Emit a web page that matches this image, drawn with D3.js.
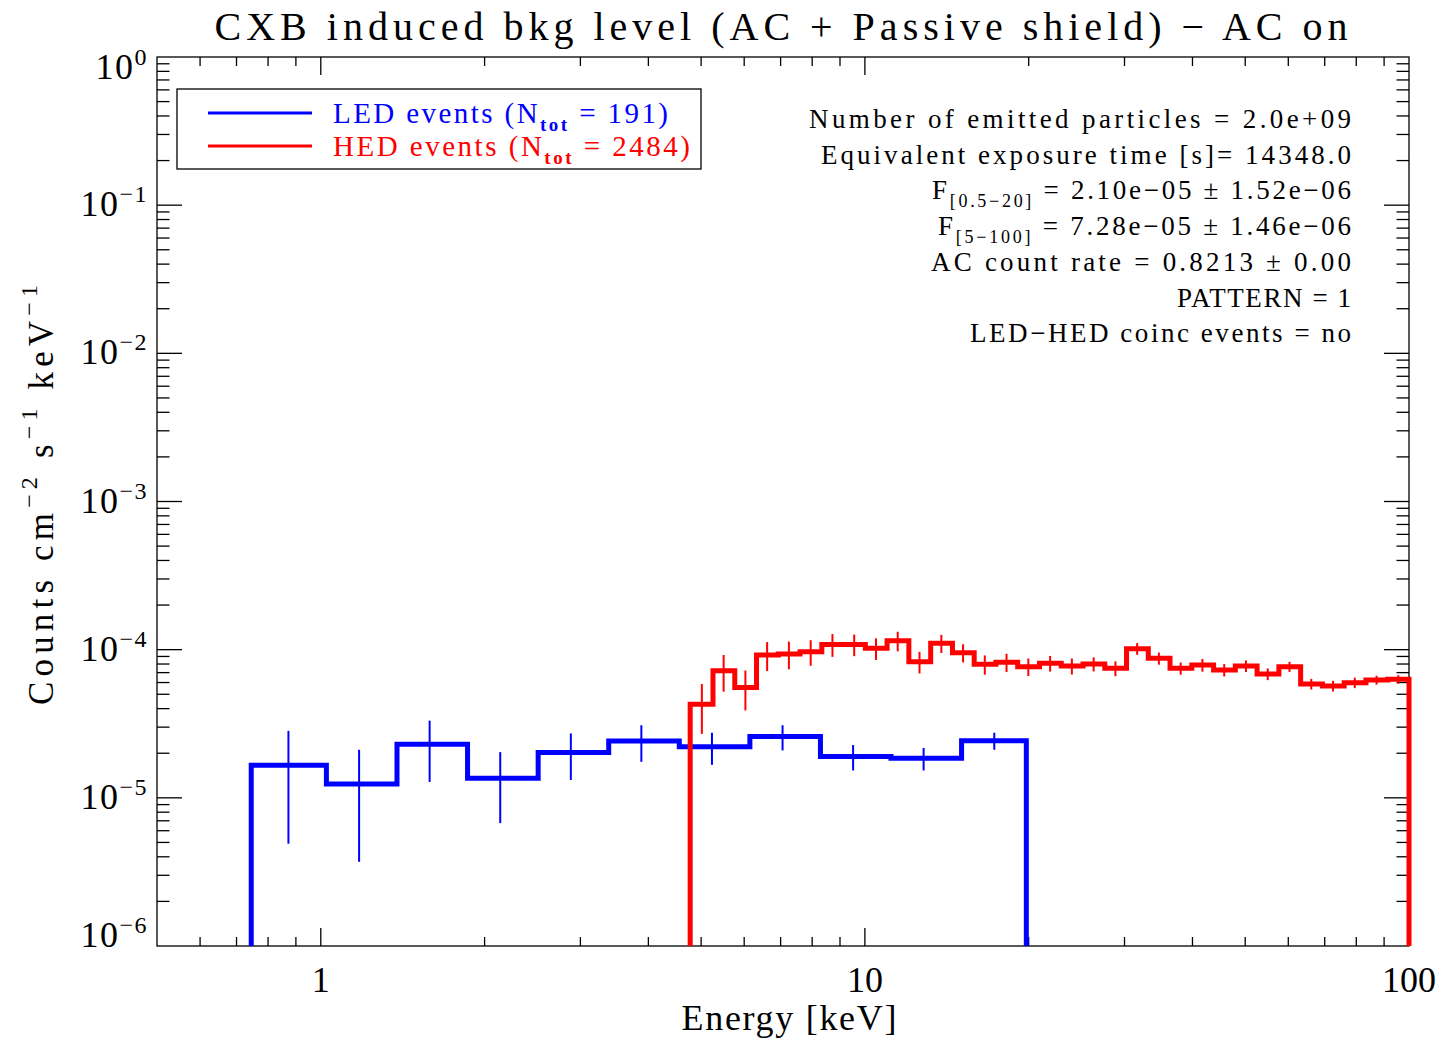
<!DOCTYPE html>
<html>
<head>
<meta charset="utf-8">
<script src="https://cdn.jsdelivr.net/npm/d3@7"></script>
<style>
  html, body { margin: 0; padding: 0; background: #fff; }
  svg { display: block; }
  text { font-family: "Liberation Serif", "DejaVu Serif", serif; fill: #000; }
</style>
</head>
<body>
<svg id="chart" width="1442" height="1040"></svg>
<script>
// ---- data ----------------------------------------------------------------
// LED spectrum: bin centres [keV], count rate, 1-sigma error
const ledEnergy = [0.872, 1.176, 1.585, 2.137, 2.881, 3.883, 5.235, 7.058, 9.513, 12.82, 17.29];
const ledRate   = [1.66e-5, 1.24e-5, 2.30e-5, 1.355e-5, 2.02e-5, 2.42e-5, 2.21e-5, 2.59e-5, 1.90e-5, 1.85e-5, 2.43e-5];
const ledErr    = [1.17e-5, 0.87e-5, 1.02e-5, 0.68e-5, 0.70e-5, 0.67e-5, 0.54e-5, 0.50e-5, 0.37e-5, 0.32e-5, 0.32e-5];
const ledBounds = [0.745, 19.8];

// HED spectrum
const hedEnergy = [5.016, 5.500, 6.031, 6.612, 7.250, 7.950, 8.717, 9.558, 10.48, 11.49, 12.60,
                   13.82, 15.15, 16.61, 18.21, 19.97, 21.90, 24.01, 26.33, 28.87, 31.65, 34.70,
                   38.05, 41.72, 45.75, 50.16, 55.00, 60.31, 66.13, 72.51, 79.50, 87.17, 95.58];
const hedRate   = [4.28e-5, 7.21e-5, 5.56e-5, 9.21e-5, 9.35e-5, 9.69e-5, 1.084e-4, 1.084e-4, 1.022e-4, 1.148e-4, 8.29e-5,
                   1.104e-4, 9.54e-5, 7.96e-5, 8.22e-5, 7.68e-5, 8.09e-5, 7.76e-5, 8.00e-5, 7.48e-5, 1.015e-4, 8.74e-5,
                   7.48e-5, 7.88e-5, 7.29e-5, 7.76e-5, 6.85e-5, 7.68e-5, 5.87e-5, 5.69e-5, 5.99e-5, 6.24e-5, 6.31e-5];
const hedErr    = [1.58e-5, 2.00e-5, 1.67e-5, 2.04e-5, 1.98e-5, 1.90e-5, 1.90e-5, 1.80e-5, 1.70e-5, 1.73e-5, 1.38e-5,
                   1.55e-5, 1.33e-5, 1.18e-5, 1.16e-5, 1.04e-5, 0.98e-5, 0.96e-5, 0.87e-5, 0.86e-5, 0.92e-5, 0.82e-5,
                   0.71e-5, 0.78e-5, 0.70e-5, 0.70e-5, 0.62e-5, 0.60e-5, 0.48e-5, 0.47e-5, 0.49e-5, 0.43e-5, 0.42e-5];
const hedBounds = [4.774, 100];

// axis ranges and tick labels
const xDomain = [0.5, 100];
const yDomain = [1e-6, 1];
const xTickLabels = [[1, "1"], [10, "10"], [100, "100"]];
const yTickExponents = ["0", "−1", "−2", "−3", "−4", "−5", "−6"];

// texts
const titleText = "CXB induced bkg level (AC + Passive shield) − AC on";
const xTitle = "Energy [keV]";
const yTitleSegs = [["Counts cm"], ["−2", "sup"], [" s"], ["−1", "sup"], [" keV"], ["−1", "sup"]];
const legendEntries = [
  { color: "#0000ff", segs: [["LED events (N"], ["tot", "sub"], [" = 191)"]], len: 335 },
  { color: "#ff0000", segs: [["HED events (N"], ["tot", "sub"], [" = 2484)"]], len: 357 }
];
const infoLines = [
  { segs: [["Number of emitted particles = 2.0e+09"]], len: 542 },
  { segs: [["Equivalent exposure time [s]= 14348.0"]], len: 530 },
  { segs: [["F"], ["[0.5−20]", "sub"], [" = 2.10e−05 ± 1.52e−06"]], len: 419 },
  { segs: [["F"], ["[5−100]", "sub"], [" = 7.28e−05 ± 1.46e−06"]], len: 413 },
  { segs: [["AC count rate = 0.8213 ± 0.00"]], len: 420 },
  { segs: [["PATTERN = 1"]], len: 174 },
  { segs: [["LED−HED coinc events = no"]], len: 381 }
];

// ---- layout --------------------------------------------------------------
const plot = { left: 157, right: 1409, top: 57, bottom: 946 };
const svg = d3.select("#chart");
svg.append("rect").attr("width", 1442).attr("height", 1040).attr("fill", "#fff");

const x = d3.scaleLog().domain(xDomain).range([plot.left, plot.right]);
const y = d3.scaleLog().domain(yDomain).range([plot.bottom, plot.top]);

// rich text helper: segments with optional superscript / subscript
function richText(sel, segs, size, opts) {
  const t = sel.append("text").attr("font-size", size);
  const small = opts.small || size * 0.66;
  const supShift = opts.sup || size * 0.4;
  const subShift = opts.sub || size * 0.3;
  let cur = 0;
  segs.forEach(([s, k]) => {
    const want = k === "sup" ? -supShift : k === "sub" ? subShift : 0;
    const sp = t.append("tspan").text(s).attr("dy", want - cur);
    if (k) sp.attr("font-size", small);
    if (k === "sub" && opts.subWeight) sp.attr("font-weight", opts.subWeight);
    cur = want;
  });
  return t;
}

// ---- frame and ticks -----------------------------------------------------
const axes = svg.append("g").attr("stroke", "#000").attr("stroke-width", 1.3);
axes.append("rect")
  .attr("x", plot.left).attr("y", plot.top)
  .attr("width", plot.right - plot.left).attr("height", plot.bottom - plot.top)
  .attr("fill", "none");

const isMajor = v => Math.abs(Math.log10(v) - Math.round(Math.log10(v))) < 1e-9;

x.ticks().filter(v => v > xDomain[0] && v < xDomain[1]).forEach(v => {
  const len = isMajor(v) ? 18 : 9;
  const px = x(v);
  axes.append("line").attr("x1", px).attr("x2", px).attr("y1", plot.bottom).attr("y2", plot.bottom - len);
  axes.append("line").attr("x1", px).attr("x2", px).attr("y1", plot.top).attr("y2", plot.top + len);
});
y.ticks().filter(v => v > yDomain[0] && v < yDomain[1]).forEach(v => {
  const len = isMajor(v) ? 25 : 12.5;
  const py = y(v);
  axes.append("line").attr("y1", py).attr("y2", py).attr("x1", plot.left).attr("x2", plot.left + len);
  axes.append("line").attr("y1", py).attr("y2", py).attr("x1", plot.right).attr("x2", plot.right - len);
});

// tick labels
xTickLabels.forEach(([v, s]) => {
  svg.append("text").attr("x", x(v)).attr("y", 992).attr("font-size", 36)
    .attr("text-anchor", "middle").text(s);
});
yTickExponents.forEach((e, i) => {
  const v = Math.pow(10, -i);
  const base = Math.max(79, Math.min(947, y(v) + 11));
  const t = richText(svg, [["10"], [e, "sup"]], 36, { small: 24, sup: 14 });
  t.attr("x", 148).attr("y", base).attr("text-anchor", "end").attr("letter-spacing", 1.5);
});

// axis titles and chart title
svg.append("text").attr("x", 781).attr("y", 40).attr("font-size", 40)
  .attr("text-anchor", "middle").attr("textLength", 1133).attr("lengthAdjust", "spacing")
  .text(titleText);
svg.append("text").attr("x", 789).attr("y", 1030).attr("font-size", 36)
  .attr("text-anchor", "middle").attr("textLength", 215).attr("lengthAdjust", "spacing")
  .text(xTitle);
richText(svg.append("g").attr("transform", "translate(53,495) rotate(-90)"), yTitleSegs, 35, { small: 24, sup: 16 })
  .attr("text-anchor", "middle").attr("textLength", 420).attr("lengthAdjust", "spacing");

// ---- spectra -------------------------------------------------------------
function stepPoints(energy, rate, bounds) {
  const pts = [[bounds[0], yDomain[0]], [bounds[0], rate[0]]];
  for (let i = 0; i < energy.length - 1; i++) {
    const edge = (energy[i] + energy[i + 1]) / 2;
    pts.push([edge, rate[i]], [edge, rate[i + 1]]);
  }
  const n = energy.length - 1;
  pts.push([bounds[1], rate[n]], [bounds[1], yDomain[0]]);
  return pts;
}
const line = d3.line().x(d => x(d[0])).y(d => y(d[1]));

function drawSpectrum(energy, rate, err, bounds, color) {
  const g = svg.append("g");
  g.selectAll("line.err").data(energy).join("line")
    .attr("class", "err")
    .attr("x1", d => x(d)).attr("x2", d => x(d))
    .attr("y1", (d, i) => y(rate[i] + err[i]))
    .attr("y2", (d, i) => y(Math.max(rate[i] - err[i], yDomain[0])))
    .attr("stroke", color).attr("stroke-width", 2);
  g.append("path").attr("d", line(stepPoints(energy, rate, bounds)))
    .attr("fill", "none").attr("stroke", color).attr("stroke-width", 5)
    .attr("stroke-linejoin", "miter").attr("stroke-linecap", "butt");
}
drawSpectrum(ledEnergy, ledRate, ledErr, ledBounds, "#0000ff");
drawSpectrum(hedEnergy, hedRate, hedErr, hedBounds, "#ff0000");

// ---- legend --------------------------------------------------------------
svg.append("rect").attr("x", 177).attr("y", 89).attr("width", 524).attr("height", 80)
  .attr("fill", "#fff").attr("stroke", "#000").attr("stroke-width", 1.3);
legendEntries.forEach((e, i) => {
  const ly = 113 + i * 33;
  svg.append("line").attr("x1", 208).attr("x2", 312).attr("y1", ly).attr("y2", ly)
    .attr("stroke", e.color).attr("stroke-width", 3);
  richText(svg, e.segs, 29, { small: 19, sub: 8, subWeight: 700 })
    .attr("x", 333).attr("y", ly + 10).attr("fill", e.color)
    .attr("textLength", e.len).attr("lengthAdjust", "spacing")
    .selectAll("tspan").attr("fill", e.color);
});

// ---- run information -----------------------------------------------------
infoLines.forEach((l, i) => {
  richText(svg, l.segs, 27, { small: 18, sub: 8 })
    .attr("x", 1351).attr("y", 128 + i * 35.7).attr("text-anchor", "end")
    .attr("textLength", l.len).attr("lengthAdjust", "spacing");
});
</script>
</body>
</html>
